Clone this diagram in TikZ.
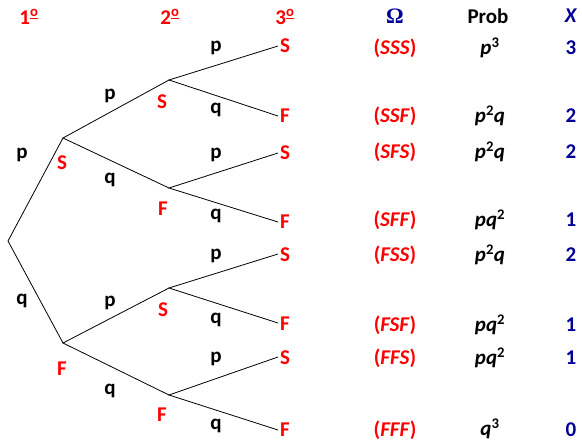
\documentclass[tikz,border=0pt]{standalone}
\usepackage{fontspec}
\setmainfont{Carlito}
\newfontfamily\serifom{Liberation Serif}
\definecolor{myred}{RGB}{255,0,0}
\definecolor{myblue}{RGB}{0,0,150}
\begin{document}
\begin{tikzpicture}[x=1pt,y=-1pt,
  txt/.style={font=\fontsize{21}{23}\selectfont\bfseries, inner sep=0pt},
  outc/.style={txt, text=myred},
  prb/.style={txt, text=black},
  hdr/.style={txt, text=myred},
  xv/.style={txt, text=myblue},
  br/.style={line width=0.8pt, black}]
\useasboundingbox (0,0) rectangle (582,442);
% tree points
\coordinate (R) at (8,241);
\coordinate (S1) at (63,138);
\coordinate (F1) at (63,343);
\coordinate (SS) at (169,80);
\coordinate (SF) at (169,188);
\coordinate (FS) at (169,288);
\coordinate (FF) at (169,395);
\coordinate (SSS) at (278,46);
\coordinate (SSF) at (278,116);
\coordinate (SFS) at (278,153);
\coordinate (SFF) at (278,222);
\coordinate (FSS) at (278,254);
\coordinate (FSF) at (278,323);
\coordinate (FFS) at (278,357);
\coordinate (FFF) at (278,430);
% branches
\draw[br] (S1) -- (R) -- (F1);
\draw[br] (SS) -- (S1) -- (SF);
\draw[br] (FS) -- (F1) -- (FF);
\draw[br] (SSS) -- (SS) -- (SSF);
\draw[br] (SFS) -- (SF) -- (SFF);
\draw[br] (FSS) -- (FS) -- (FSF);
\draw[br] (FFS) -- (FF) -- (FFF);
% headers
\node[hdr] (h1) at (29,17) {1\textsuperscript{\underline{o}}};
\node[hdr] (h2) at (170,17) {2\textsuperscript{\underline{o}}};
\node[hdr] (h3) at (285,17) {3\textsuperscript{\underline{o}}};
\node[txt, text=myblue, font=\fontsize{22}{24}\selectfont\bfseries\serifom] (hom) at (395,16) {Ω};
\node[prb] (hprob) at (488,16) {Prob};
\node[xv] (hx) at (571,16) {\textit{X}};
% node labels
\node[outc] (lS1) at (62,163) {S};
\node[outc] (lF1) at (62,369) {F};
\node[outc] (lSS) at (162,102) {S};
\node[outc] (lSF) at (163,209) {F};
\node[outc] (lFS) at (163,310) {S};
\node[outc] (lFF) at (162,415) {F};
\node[outc] (lSSS) at (285,46) {S};
\node[outc] (lSSF) at (285,116) {F};
\node[outc] (lSFS) at (285,153) {S};
\node[outc] (lSFF) at (285,222) {F};
\node[outc] (lFSS) at (285,255) {S};
\node[outc] (lFSF) at (285,324) {F};
\node[outc] (lFFS) at (285,358) {S};
\node[outc] (lFFF) at (285,430) {F};
% branch probabilities
\node[prb] (b1) at (22,155) {p};
\node[prb] (b2) at (22,301) {q};
\node[prb] (b3) at (110,96) {p};
\node[prb] (b4) at (110,180) {q};
\node[prb] (b5) at (110,303) {p};
\node[prb] (b6) at (110,391) {q};
\node[prb] (b7) at (216,48) {p};
\node[prb] (b8) at (216,110) {q};
\node[prb] (b9) at (216,155) {p};
\node[prb] (b10) at (216,216) {q};
\node[prb] (b11) at (216,256) {p};
\node[prb] (b12) at (216,320) {q};
\node[prb] (b13) at (216,359) {p};
\node[prb] (b14) at (216,426) {q};
% outcomes
\node[outc] (o1) at (395,48) {(\textit{SSS})};
\node[outc] (o2) at (395,116) {(\textit{SSF})};
\node[outc] (o3) at (395,152) {(\textit{SFS})};
\node[outc] (o4) at (395,220) {(\textit{SFF})};
\node[outc] (o5) at (395,255) {(\textit{FSS})};
\node[outc] (o6) at (395,325) {(\textit{FSF})};
\node[outc] (o7) at (395,358) {(\textit{FFS})};
\node[outc] (o8) at (395,430) {(\textit{FFF})};
% probabilities
\node[prb] (p1) at (490,48) {\textit{p}\textsuperscript{3}};
\node[prb] (p2) at (490,116) {\textit{p}\textsuperscript{2}\textit{q}};
\node[prb] (p3) at (490,152) {\textit{p}\textsuperscript{2}\textit{q}};
\node[prb] (p4) at (490,220) {\textit{pq}\textsuperscript{2}};
\node[prb] (p5) at (490,255) {\textit{p}\textsuperscript{2}\textit{q}};
\node[prb] (p6) at (490,325) {\textit{pq}\textsuperscript{2}};
\node[prb] (p7) at (490,358) {\textit{pq}\textsuperscript{2}};
\node[prb] (p8) at (490,429) {\textit{q}\textsuperscript{3}};
% X values
\node[xv] (x1) at (571,48) {3};
\node[xv] (x2) at (571,116) {2};
\node[xv] (x3) at (571,152) {2};
\node[xv] (x4) at (571,220) {1};
\node[xv] (x5) at (571,255) {2};
\node[xv] (x6) at (571,325) {1};
\node[xv] (x7) at (571,358) {1};
\node[xv] (x8) at (571,430) {0};
\end{tikzpicture}
\end{document}
